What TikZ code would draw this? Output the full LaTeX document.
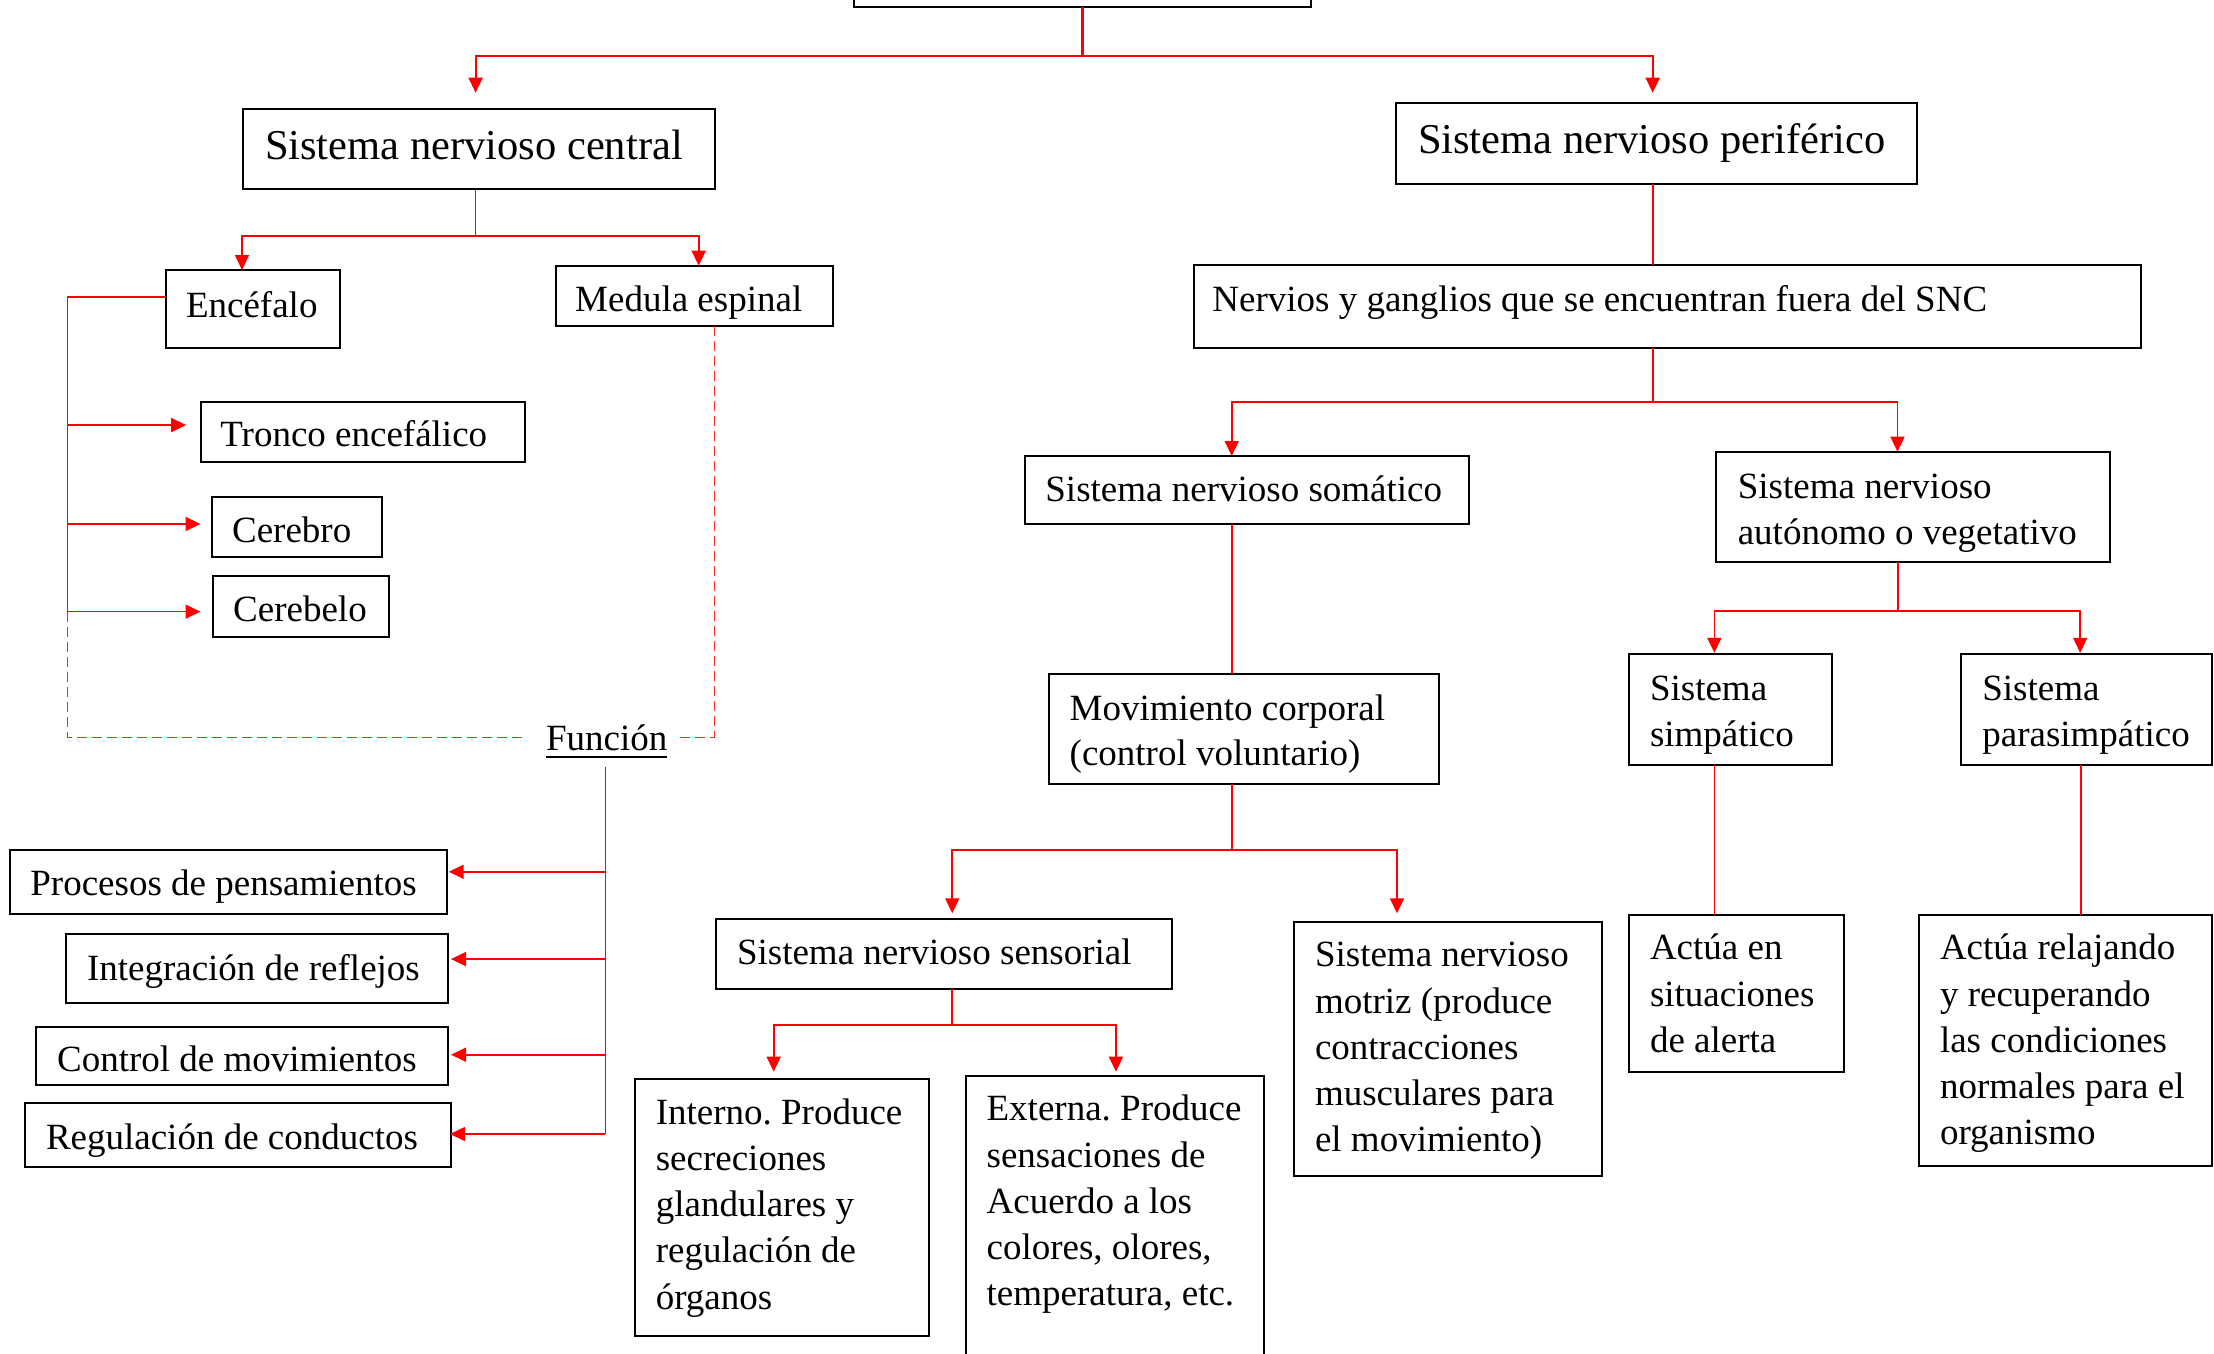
\documentclass[tikz,border=0pt]{standalone}
\usepackage{fontspec}
\setmainfont{Liberation Serif}
\usetikzlibrary{arrows.meta}
\frenchspacing
\newcommand{\ml}[1]{\begin{tabular}[t]{@{}l@{}}#1\end{tabular}}
\newcommand{\mkbox}[5]{\node[box, minimum width=#4pt, minimum height=#5pt] (#1) at (#2,#3) {};}
\tikzset{
 box/.style={draw=black, line width=2pt, fill=white, inner sep=0pt, outer sep=0pt, anchor=north west},
 txt/.style={inner sep=0pt, outer sep=0pt, anchor=base west, font=\fontsize{37}{46.3}\selectfont},
 bigtxt/.style={txt, font=\fontsize{42.5}{50}\selectfont},
 ln/.style={draw=red, line width=1.6pt},
 lnb/.style={draw=red, line width=2.2pt},
 dsh/.style={draw=red!85, line width=1.6pt, dash pattern=on 10pt off 5pt},
 arr/.style={-{Triangle[length=15pt,width=14pt]}},
}
\begin{document}
\begin{tikzpicture}[x=1pt,y=-1pt]
\useasboundingbox (0,0) rectangle (2214,1354);
% ---------- boxes ----------
\mkbox{top}{854}{-40}{457}{47}
\mkbox{snc}{243}{108.7}{472}{80}
\mkbox{snp}{1395.6}{103.3}{521}{80.7}
\mkbox{nerv}{1193.6}{265}{947.4}{83.3}
\mkbox{enc}{165.6}{270}{174.6}{78.3}
\mkbox{med}{555.6}{265.7}{277.8}{60.3}
\mkbox{tron}{201}{401.7}{324}{60.3}
\mkbox{cerebro}{211.7}{497}{170.4}{60.3}
\mkbox{cerebelo}{212.8}{576}{176}{60.7}
\mkbox{somat}{1025}{456}{444}{68.3}
\mkbox{auto}{1715.7}{451.7}{394.4}{110.6}
\mkbox{movi}{1048.6}{674}{390.4}{110.3}
\mkbox{simp}{1629}{654.3}{202.5}{110.3}
\mkbox{para}{1960.7}{654.3}{251.3}{110.3}
\mkbox{sens}{715.6}{919}{456.3}{70}
\mkbox{motr}{1294}{921.7}{308}{254.3}
\mkbox{alert}{1629}{914.6}{214.6}{157.7}
\mkbox{relaj}{1919.2}{914.6}{292.8}{251}
\mkbox{intern}{634.8}{1079}{293.8}{256.7}
\mkbox{extern}{966}{1076}{298.3}{304}
\mkbox{proc}{10.3}{849.7}{436.6}{64.3}
\mkbox{integ}{66}{934.3}{381.8}{68.7}
\mkbox{ctrl}{36.2}{1026.7}{412}{58}
\mkbox{regul}{25}{1103.3}{425.9}{64}
% ---------- texts ----------
\node[bigtxt] (snc-t) at (265,159) {Sistema nervioso central};
\node[bigtxt] (snp-t) at (1418,153.3) {Sistema nervioso periférico};
\node[txt] (nerv-t) at (1212.4,311.7) {Nervios y ganglios que se encuentran fuera del SNC};
\node[txt] (enc-t) at (186,317) {Encéfalo};
\node[txt] (med-t) at (575.2,311.7) {Medula espinal};
\node[txt] (tron-t) at (220.4,446.7) {Tronco encefálico};
\node[txt] (cerebro-t) at (232.1,542.7) {Cerebro};
\node[txt] (cerebelo-t) at (233.2,621.7) {Cerebelo};
\node[txt] (fun) at (546,750) {Función};
\node[txt] (proc-t) at (30.4,895) {Procesos de pensamientos};
\node[txt] (integ-t) at (87,980) {Integración de reflejos};
\node[txt] (ctrl-t) at (57.1,1071.7) {Control de movimientos};
\node[txt] (regul-t) at (46,1149.3) {Regulación de conductos};
\node[txt] (somat-t) at (1045.4,501.7) {Sistema nervioso somático};
\node[txt] (auto-t) at (1737.8,498.3) {\ml{Sistema nervioso\\autónomo o vegetativo}};
\node[txt, font=\fontsize{37}{45}\selectfont] (movi-t) at (1069.7,720) {\ml{Movimiento corporal\\(control voluntario)}};
\node[txt] (simp-t) at (1650,700.3) {\ml{Sistema\\simpático}};
\node[txt] (para-t) at (1982.3,700.3) {\ml{Sistema\\parasimpático}};
\node[txt] (sens-t) at (737,964.3) {Sistema nervioso sensorial};
\node[txt] (motr-t) at (1315,966.7) {\ml{Sistema nervioso\\motriz (produce\\contracciones\\musculares para\\el movimiento)}};
\node[txt] (alert-t) at (1650,959.7) {\ml{Actúa en\\situaciones\\de alerta}};
\node[txt] (relaj-t) at (1940,959.7) {\ml{Actúa relajando\\y recuperando\\las condiciones\\normales para el\\organismo}};
\node[txt] (intern-t) at (655.8,1124) {\ml{Interno. Produce\\secreciones\\glandulares y\\regulación de\\órganos}};
\node[txt] (extern-t) at (986.6,1120.7) {\ml{Externa. Produce\\sensaciones de\\Acuerdo a los\\colores, olores,\\temperatura, etc.}};
\draw[line width=2pt] ([yshift=-7pt]fun.base west) -- ([yshift=-7pt]fun.base east);
% ---------- connectors ----------
\coordinate (tj) at (1082.5,56);
\draw[lnb] (top.south) -- (tj);
\draw[lnb,arr] (tj) -| ([xshift=-3.4pt,yshift=16pt]snc.north);
\draw[lnb,arr] (tj) -| ([xshift=-3.4pt,yshift=10.6pt]snp.north);
% SNC branch
\draw[ln] ([xshift=-3.4pt]snc.south) -- ++(0,47.3) coordinate (cj);
\draw[ln,arr] (cj) -| ([xshift=-10.9pt]enc.north);
\draw[ln,arr] (cj) -| ([xshift=4.2pt]med.north);
% Encefalo tree
\coordinate (lb) at (67.3,611.7);
\draw[ln] ([yshift=11.9pt]enc.west) -| (lb);
\path ([xshift=-14.8pt,yshift=6.8pt]tron.west) coordinate (tin);
\path ([xshift=-11.2pt,yshift=3.2pt]cerebro.west) coordinate (crin);
\path ([xshift=-12.3pt,yshift=-5.3pt]cerebelo.west) coordinate (clin);
\draw[ln,arr] (lb |- tin) -- (tin);
\draw[ln,arr] (lb |- crin) -- (crin);
\draw[ln,arr] (lb |- clin) -- (clin);
\draw[dsh] (lb) |- ([xshift=-20.5pt]fun.west);
\draw[dsh] ([xshift=13pt]fun.east) -| ([xshift=19.8pt]med.south);
% Funcion branches
\path ([xshift=-1.2pt,yshift=-16.7pt]fun.south) coordinate (fv);
\path ([xshift=1.8pt,yshift=10.1pt]proc.east) coordinate (pin);
\path ([xshift=3.2pt,yshift=9.6pt]integ.east) coordinate (iin);
\path ([xshift=2.8pt,yshift=1pt]ctrl.east) coordinate (cin);
\path ([xshift=-0.9pt,yshift=1.3pt]regul.east) coordinate (rin);
\draw[ln] (fv) -- (fv |- rin);
\draw[ln,arr] (fv |- pin) -- (pin);
\draw[ln,arr] (fv |- iin) -- (iin);
\draw[ln,arr] (fv |- cin) -- (cin);
\draw[ln,arr] (fv |- rin) -- (rin);
% SNP branch
\path ([xshift=-3.4pt]snp.south) coordinate (px);
\draw[ln] (px) -- (px |- nerv.north);
\draw[ln] (px |- nerv.south) -- ++(0,53.7) coordinate (nj);
\draw[ln,arr] (nj) -| ([xshift=-15.3pt]somat.north);
\draw[ln,arr] (nj) -| ([xshift=-15.4pt]auto.north);
% somatico
\path ([xshift=-15.3pt]somat.south) coordinate (sx);
\draw[ln] (sx) -- (sx |- movi.north);
\draw[ln] (sx |- movi.south) -- ++(0,65.7) coordinate (mj);
\draw[ln,arr] (mj) -| ([xshift=8.5pt,yshift=5.7pt]sens.north);
\draw[ln,arr] (mj) -| ([xshift=-51pt,yshift=8.4pt]motr.north);
\path ([xshift=8.5pt]sens.south) coordinate (ssx);
\draw[ln] (ssx) -- ++(0,36) coordinate (sj);
\draw[ln,arr] (sj) -| ([xshift=-8pt,yshift=7.3pt]intern.north);
\draw[ln,arr] (sj) -| ([xshift=0.8pt,yshift=4.3pt]extern.north);
% autonomo
\path ([xshift=-15.2pt]auto.south) coordinate (ax);
\draw[ln] (ax) -- ++(0,48.4) coordinate (aj);
\draw[ln,arr] (aj) -| ([xshift=-15.9pt,yshift=1.5pt]simp.north);
\draw[ln,arr] (aj) -| ([xshift=-6.2pt,yshift=1.5pt]para.north);
\path ([xshift=-15.9pt]simp.south) coordinate (spx);
\draw[ln] (spx) -- (spx |- alert.north);
\path ([xshift=-5.4pt]para.south) coordinate (ppx);
\draw[ln] (ppx) -- (ppx |- relaj.north);
\end{tikzpicture}
\end{document}
